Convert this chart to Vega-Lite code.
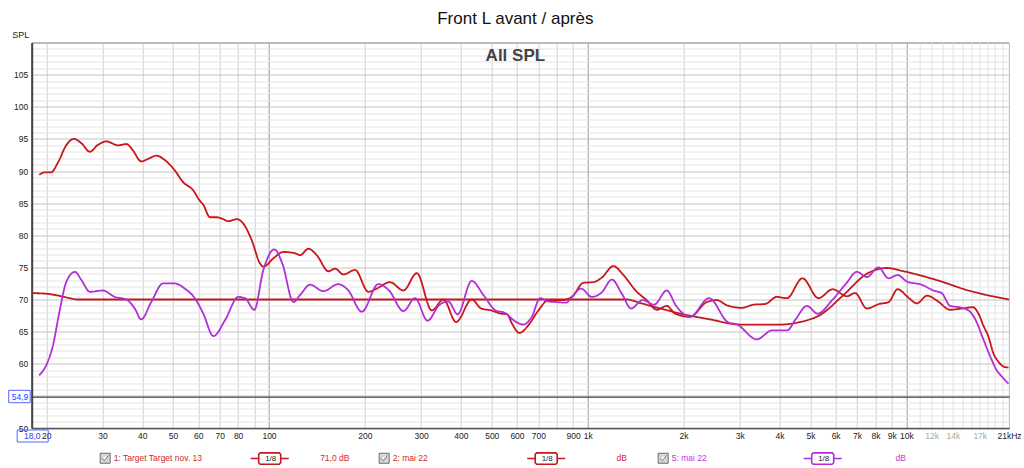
{
  "$schema": "https://vega.github.io/schema/vega-lite/v6.json",
  "width": 977.3,
  "height": 385.5,
  "autosize": {"type": "none"},
  "padding": {"left": 31.7, "top": 42.5, "right": 15, "bottom": 40},
  "background": "white",
  "config": {
    "font": "Liberation Sans",
    "view": {"stroke": "#777777", "strokeWidth": 1}
  },
  "title": {
    "text": "Front L avant / après",
    "subtitle": "All SPL",
    "anchor": "middle",
    "frame": "group",
    "fontSize": 17,
    "fontWeight": "normal",
    "color": "#111111",
    "subtitleFontSize": 17,
    "subtitleFontWeight": "bold",
    "subtitleColor": "#444444",
    "subtitlePadding": 20,
    "offset": -34,
    "dx": -5
  },
  "data": {
    "values": [
      {"s": "1: Target Target nov. 13", "f": 18, "v": 71.0},
      {"s": "1: Target Target nov. 13", "f": 20.0, "v": 70.9},
      {"s": "1: Target Target nov. 13", "f": 21.3, "v": 70.7},
      {"s": "1: Target Target nov. 13", "f": 22.3, "v": 70.5},
      {"s": "1: Target Target nov. 13", "f": 23.7, "v": 70.2},
      {"s": "1: Target Target nov. 13", "f": 25.1, "v": 70.0},
      {"s": "1: Target Target nov. 13", "f": 30, "v": 70.0},
      {"s": "1: Target Target nov. 13", "f": 100, "v": 70.0},
      {"s": "1: Target Target nov. 13", "f": 500, "v": 70.0},
      {"s": "1: Target Target nov. 13", "f": 1000, "v": 70.0},
      {"s": "1: Target Target nov. 13", "f": 1327, "v": 70.0},
      {"s": "1: Target Target nov. 13", "f": 1473, "v": 69.4},
      {"s": "1: Target Target nov. 13", "f": 1998, "v": 67.7},
      {"s": "1: Target Target nov. 13", "f": 2423, "v": 66.9},
      {"s": "1: Target Target nov. 13", "f": 3010, "v": 66.1},
      {"s": "1: Target Target nov. 13", "f": 4020, "v": 66.1},
      {"s": "1: Target Target nov. 13", "f": 4642, "v": 66.5},
      {"s": "1: Target Target nov. 13", "f": 5366, "v": 67.6},
      {"s": "1: Target Target nov. 13", "f": 6350, "v": 70.7},
      {"s": "1: Target Target nov. 13", "f": 7519, "v": 74.0},
      {"s": "1: Target Target nov. 13", "f": 8687, "v": 74.9},
      {"s": "1: Target Target nov. 13", "f": 9796, "v": 74.4},
      {"s": "1: Target Target nov. 13", "f": 12500, "v": 73.0},
      {"s": "1: Target Target nov. 13", "f": 15667, "v": 71.4},
      {"s": "1: Target Target nov. 13", "f": 21000, "v": 70.0},

      {"s": "2: mai 22", "f": 19.0, "v": 89.4},
      {"s": "2: mai 22", "f": 19.8, "v": 89.8},
      {"s": "2: mai 22", "f": 20.7, "v": 89.8},
      {"s": "2: mai 22", "f": 21.8, "v": 91.4},
      {"s": "2: mai 22", "f": 23.1, "v": 94.0},
      {"s": "2: mai 22", "f": 24.4, "v": 95.0},
      {"s": "2: mai 22", "f": 25.8, "v": 94.3},
      {"s": "2: mai 22", "f": 27.4, "v": 93.0},
      {"s": "2: mai 22", "f": 29.1, "v": 94.1},
      {"s": "2: mai 22", "f": 30.9, "v": 94.6},
      {"s": "2: mai 22", "f": 33.6, "v": 94.0},
      {"s": "2: mai 22", "f": 35.7, "v": 94.2},
      {"s": "2: mai 22", "f": 37.4, "v": 93.2},
      {"s": "2: mai 22", "f": 39.7, "v": 91.5},
      {"s": "2: mai 22", "f": 42.2, "v": 92.0},
      {"s": "2: mai 22", "f": 44.3, "v": 92.4},
      {"s": "2: mai 22", "f": 47.1, "v": 91.7},
      {"s": "2: mai 22", "f": 50.6, "v": 90.1},
      {"s": "2: mai 22", "f": 53.7, "v": 88.3},
      {"s": "2: mai 22", "f": 57.8, "v": 87.0},
      {"s": "2: mai 22", "f": 60.6, "v": 85.4},
      {"s": "2: mai 22", "f": 62.1, "v": 84.8},
      {"s": "2: mai 22", "f": 65.3, "v": 82.8},
      {"s": "2: mai 22", "f": 68.5, "v": 82.8},
      {"s": "2: mai 22", "f": 71.1, "v": 82.6},
      {"s": "2: mai 22", "f": 74.5, "v": 82.2},
      {"s": "2: mai 22", "f": 79.2, "v": 82.5},
      {"s": "2: mai 22", "f": 83.1, "v": 81.8},
      {"s": "2: mai 22", "f": 88.3, "v": 79.2},
      {"s": "2: mai 22", "f": 93.7, "v": 75.6},
      {"s": "2: mai 22", "f": 96.0, "v": 75.1},
      {"s": "2: mai 22", "f": 103.2, "v": 76.4},
      {"s": "2: mai 22", "f": 110.9, "v": 77.4},
      {"s": "2: mai 22", "f": 120.7, "v": 77.2},
      {"s": "2: mai 22", "f": 125.2, "v": 76.9},
      {"s": "2: mai 22", "f": 132.9, "v": 77.9},
      {"s": "2: mai 22", "f": 141.2, "v": 76.9},
      {"s": "2: mai 22", "f": 153.6, "v": 74.4},
      {"s": "2: mai 22", "f": 161.2, "v": 74.8},
      {"s": "2: mai 22", "f": 171.1, "v": 73.9},
      {"s": "2: mai 22", "f": 186.3, "v": 74.6},
      {"s": "2: mai 22", "f": 205.0, "v": 71.2},
      {"s": "2: mai 22", "f": 217.8, "v": 71.7},
      {"s": "2: mai 22", "f": 239.8, "v": 72.7},
      {"s": "2: mai 22", "f": 264.1, "v": 71.4},
      {"s": "2: mai 22", "f": 290.9, "v": 74.1},
      {"s": "2: mai 22", "f": 324.2, "v": 68.3},
      {"s": "2: mai 22", "f": 352.6, "v": 70.0},
      {"s": "2: mai 22", "f": 386.5, "v": 66.5},
      {"s": "2: mai 22", "f": 432.7, "v": 70.0},
      {"s": "2: mai 22", "f": 463, "v": 68.6},
      {"s": "2: mai 22", "f": 497.7, "v": 68.3},
      {"s": "2: mai 22", "f": 535, "v": 67.8},
      {"s": "2: mai 22", "f": 558.7, "v": 67.7},
      {"s": "2: mai 22", "f": 578, "v": 66.3},
      {"s": "2: mai 22", "f": 611, "v": 64.8},
      {"s": "2: mai 22", "f": 651.8, "v": 66.0},
      {"s": "2: mai 22", "f": 700.4, "v": 68.3},
      {"s": "2: mai 22", "f": 753, "v": 69.9},
      {"s": "2: mai 22", "f": 829.6, "v": 69.9},
      {"s": "2: mai 22", "f": 891.9, "v": 70.4},
      {"s": "2: mai 22", "f": 969.7, "v": 72.6},
      {"s": "2: mai 22", "f": 1042, "v": 72.7},
      {"s": "2: mai 22", "f": 1107, "v": 73.4},
      {"s": "2: mai 22", "f": 1204, "v": 75.2},
      {"s": "2: mai 22", "f": 1295, "v": 73.8},
      {"s": "2: mai 22", "f": 1426, "v": 71.2},
      {"s": "2: mai 22", "f": 1532, "v": 69.9},
      {"s": "2: mai 22", "f": 1648, "v": 68.4},
      {"s": "2: mai 22", "f": 1771, "v": 69.0},
      {"s": "2: mai 22", "f": 1881, "v": 67.8},
      {"s": "2: mai 22", "f": 2095, "v": 67.3},
      {"s": "2: mai 22", "f": 2365, "v": 69.6},
      {"s": "2: mai 22", "f": 2543, "v": 69.9},
      {"s": "2: mai 22", "f": 2734, "v": 69.1},
      {"s": "2: mai 22", "f": 3047, "v": 68.7},
      {"s": "2: mai 22", "f": 3314, "v": 69.2},
      {"s": "2: mai 22", "f": 3605, "v": 69.3},
      {"s": "2: mai 22", "f": 3922, "v": 70.4},
      {"s": "2: mai 22", "f": 4217, "v": 70.2},
      {"s": "2: mai 22", "f": 4723, "v": 73.3},
      {"s": "2: mai 22", "f": 5299, "v": 70.2},
      {"s": "2: mai 22", "f": 5874, "v": 71.6},
      {"s": "2: mai 22", "f": 6505, "v": 70.5},
      {"s": "2: mai 22", "f": 6907, "v": 71.0},
      {"s": "2: mai 22", "f": 7519, "v": 68.6},
      {"s": "2: mai 22", "f": 8217, "v": 69.3},
      {"s": "2: mai 22", "f": 8797, "v": 69.6},
      {"s": "2: mai 22", "f": 9394, "v": 71.6},
      {"s": "2: mai 22", "f": 10098, "v": 70.4},
      {"s": "2: mai 22", "f": 10793, "v": 69.4},
      {"s": "2: mai 22", "f": 11622, "v": 70.6},
      {"s": "2: mai 22", "f": 12497, "v": 69.8},
      {"s": "2: mai 22", "f": 13729, "v": 68.4},
      {"s": "2: mai 22", "f": 14972, "v": 68.6},
      {"s": "2: mai 22", "f": 16155, "v": 68.8},
      {"s": "2: mai 22", "f": 16846, "v": 67.8},
      {"s": "2: mai 22", "f": 17430, "v": 66.0},
      {"s": "2: mai 22", "f": 18104, "v": 64.2},
      {"s": "2: mai 22", "f": 18770, "v": 61.6},
      {"s": "2: mai 22", "f": 19465, "v": 60.3},
      {"s": "2: mai 22", "f": 20135, "v": 59.6},
      {"s": "2: mai 22", "f": 20920, "v": 59.4},

      {"s": "5: mai 22", "f": 19.0, "v": 58.2},
      {"s": "5: mai 22", "f": 20.0, "v": 59.8},
      {"s": "5: mai 22", "f": 21.0, "v": 62.9},
      {"s": "5: mai 22", "f": 22.0, "v": 68.1},
      {"s": "5: mai 22", "f": 23.1, "v": 72.7},
      {"s": "5: mai 22", "f": 24.6, "v": 74.3},
      {"s": "5: mai 22", "f": 25.8, "v": 73.0},
      {"s": "5: mai 22", "f": 27.4, "v": 71.2},
      {"s": "5: mai 22", "f": 30.1, "v": 71.4},
      {"s": "5: mai 22", "f": 32.8, "v": 70.4},
      {"s": "5: mai 22", "f": 35.7, "v": 70.0},
      {"s": "5: mai 22", "f": 37.9, "v": 68.6},
      {"s": "5: mai 22", "f": 39.7, "v": 66.9},
      {"s": "5: mai 22", "f": 42.7, "v": 69.6},
      {"s": "5: mai 22", "f": 46.5, "v": 72.5},
      {"s": "5: mai 22", "f": 50.6, "v": 72.5},
      {"s": "5: mai 22", "f": 54.4, "v": 71.7},
      {"s": "5: mai 22", "f": 58.5, "v": 70.2},
      {"s": "5: mai 22", "f": 62.2, "v": 67.8},
      {"s": "5: mai 22", "f": 66.9, "v": 64.3},
      {"s": "5: mai 22", "f": 72.8, "v": 66.8},
      {"s": "5: mai 22", "f": 80.1, "v": 70.4},
      {"s": "5: mai 22", "f": 84.1, "v": 70.2},
      {"s": "5: mai 22", "f": 89.9, "v": 68.4},
      {"s": "5: mai 22", "f": 96.0, "v": 74.6},
      {"s": "5: mai 22", "f": 103.9, "v": 77.8},
      {"s": "5: mai 22", "f": 110.1, "v": 75.6},
      {"s": "5: mai 22", "f": 119.3, "v": 69.6},
      {"s": "5: mai 22", "f": 125.2, "v": 70.7},
      {"s": "5: mai 22", "f": 134.5, "v": 72.3},
      {"s": "5: mai 22", "f": 148.1, "v": 71.3},
      {"s": "5: mai 22", "f": 165.0, "v": 72.4},
      {"s": "5: mai 22", "f": 177.4, "v": 71.4},
      {"s": "5: mai 22", "f": 195.5, "v": 68.1},
      {"s": "5: mai 22", "f": 220.4, "v": 72.4},
      {"s": "5: mai 22", "f": 238.1, "v": 71.4},
      {"s": "5: mai 22", "f": 264.1, "v": 68.2},
      {"s": "5: mai 22", "f": 287.3, "v": 70.2},
      {"s": "5: mai 22", "f": 314.5, "v": 66.7},
      {"s": "5: mai 22", "f": 341.6, "v": 69.1},
      {"s": "5: mai 22", "f": 365.5, "v": 69.7},
      {"s": "5: mai 22", "f": 390.6, "v": 67.7},
      {"s": "5: mai 22", "f": 432.7, "v": 72.9},
      {"s": "5: mai 22", "f": 470.9, "v": 70.7},
      {"s": "5: mai 22", "f": 514.1, "v": 68.3},
      {"s": "5: mai 22", "f": 550.6, "v": 67.9},
      {"s": "5: mai 22", "f": 592, "v": 66.6},
      {"s": "5: mai 22", "f": 628.4, "v": 66.1},
      {"s": "5: mai 22", "f": 667.8, "v": 67.3},
      {"s": "5: mai 22", "f": 709, "v": 70.2},
      {"s": "5: mai 22", "f": 753, "v": 69.7},
      {"s": "5: mai 22", "f": 800.1, "v": 69.6},
      {"s": "5: mai 22", "f": 855.5, "v": 69.5},
      {"s": "5: mai 22", "f": 891.9, "v": 70.4},
      {"s": "5: mai 22", "f": 953.7, "v": 71.7},
      {"s": "5: mai 22", "f": 1031, "v": 70.4},
      {"s": "5: mai 22", "f": 1107, "v": 71.1},
      {"s": "5: mai 22", "f": 1191, "v": 73.1},
      {"s": "5: mai 22", "f": 1280, "v": 70.9},
      {"s": "5: mai 22", "f": 1369, "v": 68.6},
      {"s": "5: mai 22", "f": 1487, "v": 69.9},
      {"s": "5: mai 22", "f": 1616, "v": 69.2},
      {"s": "5: mai 22", "f": 1771, "v": 71.4},
      {"s": "5: mai 22", "f": 1896, "v": 69.0},
      {"s": "5: mai 22", "f": 2095, "v": 67.3},
      {"s": "5: mai 22", "f": 2405, "v": 70.2},
      {"s": "5: mai 22", "f": 2750, "v": 66.5},
      {"s": "5: mai 22", "f": 2945, "v": 66.1},
      {"s": "5: mai 22", "f": 3395, "v": 63.8},
      {"s": "5: mai 22", "f": 3793, "v": 65.2},
      {"s": "5: mai 22", "f": 4228, "v": 65.2},
      {"s": "5: mai 22", "f": 4478, "v": 66.8},
      {"s": "5: mai 22", "f": 4873, "v": 69.0},
      {"s": "5: mai 22", "f": 5269, "v": 67.8},
      {"s": "5: mai 22", "f": 5852, "v": 69.9},
      {"s": "5: mai 22", "f": 6475, "v": 72.5},
      {"s": "5: mai 22", "f": 6995, "v": 74.3},
      {"s": "5: mai 22", "f": 7519, "v": 73.5},
      {"s": "5: mai 22", "f": 8178, "v": 75.0},
      {"s": "5: mai 22", "f": 8788, "v": 73.3},
      {"s": "5: mai 22", "f": 9394, "v": 73.8},
      {"s": "5: mai 22", "f": 10039, "v": 72.8},
      {"s": "5: mai 22", "f": 11173, "v": 72.3},
      {"s": "5: mai 22", "f": 12168, "v": 71.4},
      {"s": "5: mai 22", "f": 12910, "v": 71.0},
      {"s": "5: mai 22", "f": 13729, "v": 69.0},
      {"s": "5: mai 22", "f": 14972, "v": 68.7},
      {"s": "5: mai 22", "f": 15857, "v": 68.1},
      {"s": "5: mai 22", "f": 16683, "v": 66.3},
      {"s": "5: mai 22", "f": 17264, "v": 64.4},
      {"s": "5: mai 22", "f": 18461, "v": 60.8},
      {"s": "5: mai 22", "f": 19208, "v": 59.0},
      {"s": "5: mai 22", "f": 19948, "v": 58.0},
      {"s": "5: mai 22", "f": 20920, "v": 56.9}
    ]
  },
  "layer": [
    {
      "mark": {"type": "line", "interpolate": "monotone", "strokeWidth": 1.8},
      "encoding": {
        "x": {
          "field": "f",
          "type": "quantitative",
          "scale": {"type": "log", "domain": [18, 21000], "nice": false},
          "axis": {
            "title": null,
            "tickCount": 200,
            "values": [18, 20, 30, 40, 50, 60, 70, 80, 90, 100, 200, 300, 400, 500, 600, 700, 800, 900, 1000, 2000, 3000, 4000, 5000, 6000, 7000, 8000, 9000, 10000, 11000, 12000, 13000, 14000, 15000, 16000, 17000, 18000, 19000, 20000, 21000],
            "labelExpr": "datum.value == 18 ? '18,0' : datum.value == 21000 ? '21kHz' : (datum.value == 90 || datum.value == 800 || datum.value == 11000 || datum.value == 13000 || datum.value == 15000 || datum.value == 16000 || datum.value >= 18000) ? '' : datum.value >= 1000 ? (datum.value / 1000) + 'k' : '' + datum.value",
            "labelFontSize": 8.5,
            "labelPadding": 3,
            "labelFlush": false,
            "labelOverlap": false,
            "ticks": false,
            "grid": true,
            "domain": true,
            "domainColor": "#555555",
            "domainWidth": 1.5,
            "gridColor": {"condition": [{"test": "datum.value == 100 || datum.value == 1000 || datum.value == 10000", "value": "#9a9a9a"}, {"test": "datum.value > 10000", "value": "#e2e2e2"}], "value": "#d0d0d0"},
            "labelColor": {"condition": [{"test": "datum.value == 18", "value": "#2a40ff"}, {"test": "datum.value == 12000 || datum.value == 14000 || datum.value == 17000", "value": "#a8a8a8"}], "value": "#222222"}
          }
        },
        "y": {
          "field": "v",
          "type": "quantitative",
          "scale": {"domain": [50, 110], "nice": false, "zero": false},
          "axis": {
            "title": "SPL",
            "titleAngle": 0,
            "titleAlign": "left",
            "titleBaseline": "middle",
            "titleX": -20,
            "titleY": -8,
            "titleFontSize": 9,
            "titleFontWeight": "normal",
            "titleColor": "#222222",
            "tickCount": 200,
            "values": [50, 51, 52, 53, 54, 54.9, 55, 56, 57, 58, 59, 60, 61, 62, 63, 64, 65, 66, 67, 68, 69, 70, 71, 72, 73, 74, 75, 76, 77, 78, 79, 80, 81, 82, 83, 84, 85, 86, 87, 88, 89, 90, 91, 92, 93, 94, 95, 96, 97, 98, 99, 100, 101, 102, 103, 104, 105, 106, 107, 108, 109],
            "labelExpr": "datum.value == 54.9 ? '54,9' : (datum.value % 5 == 0 && datum.value != 55) ? '' + datum.value : ''",
            "labelFontSize": 8.5,
            "labelPadding": 4,
            "labelOverlap": false,
            "labelFlush": false,
            "ticks": false,
            "grid": true,
            "domain": true,
            "domainColor": "#444444",
            "domainWidth": 2,
            "gridColor": {"condition": [{"test": "datum.value == 54.9", "value": "#3a3a3a"}, {"test": "datum.value % 5 == 0", "value": "#c4c4c4"}], "value": "#e4e4e4"},
            "gridWidth": {"condition": {"test": "datum.value == 54.9", "value": 1.3}, "value": 1},
            "labelColor": {"condition": {"test": "datum.value == 54.9", "value": "#2a40ff"}, "value": "#222222"}
          }
        },
        "color": {
          "field": "s",
          "type": "nominal",
          "scale": {"domain": ["1: Target Target nov. 13", "2: mai 22", "5: mai 22"], "range": ["#bf1a1f", "#c8161c", "#b22fd8"]},
          "legend": {
            "orient": "none",
            "legendX": 218,
            "legendY": 396,
            "direction": "horizontal",
            "columns": 3,
            "title": null,
            "padding": 0,
            "gridAlign": "all",
            "columnPadding": 230.5,
            "symbolType": "M-1,0H-0.58M0.58,0H1M-0.5,-0.3H0.5L0.58,-0.22V0.22L0.5,0.3H-0.5L-0.58,0.22V-0.22Z",
            "symbolSize": 1444,
            "symbolFillColor": "#ffffff",
            "symbolStrokeWidth": 1.6,
            "labelExpr": "'1/8'",
            "labelFontSize": 8,
            "labelOffset": -19,
            "labelAlign": "center",
            "labelColor": "#222222",
            "encode": {
              "symbols": {"update": {"fill": {"value": "#ffffff"}, "strokeWidth": {"value": 1.6}, "opacity": {"value": 1}}}
            }
          }
        },
        "strokeDash": {
          "field": "s",
          "type": "nominal",
          "scale": {"range": [[1, 0], [1, 0], [1, 0]]},
          "legend": {
            "orient": "none",
            "legendX": 68,
            "legendY": 410,
            "direction": "horizontal",
            "columns": 3,
            "title": null,
            "padding": 0,
            "gridAlign": "all",
            "columnPadding": 26,
            "symbolType": "M-1,-1H1V1H-1Z M-0.6,0L-0.15,0.5L0.65,-0.6",
            "symbolSize": 100,
            "symbolStrokeColor": "#5e5e5e",
            "symbolFillColor": "#d6d6d6",
            "symbolStrokeWidth": 1,
            "labelFontSize": 8.5,
            "labelOffset": 3,
            "labelLimit": 400,
            "labelExpr": "datum.value == '1: Target Target nov. 13' ? datum.value + pad('', 50, '\u00a0') + '71,0 dB' : datum.value + pad('', 80, '\u00a0') + 'dB'",
            "encode": {
              "symbols": {"update": {"stroke": {"value": "#5e5e5e"}, "fill": {"value": "#d6d6d6"}, "strokeWidth": {"value": 1}, "strokeDash": {"value": []}, "opacity": {"value": 1}}},
              "labels": {"update": {"fill": {"signal": "datum.value == '5: mai 22' ? '#c03ad8' : '#d02a2a'"}}}
            }
          }
        }
      }
    },
    {
      "data": {"values": [{}]},
      "mark": {"type": "point", "shape": "M-1.45,0.2H1.65V1.4H-1.45Z", "size": 400, "filled": false, "stroke": "#5566ff", "strokeWidth": 1, "opacity": 1},
      "encoding": {"x": {"datum": 18}, "y": {"datum": 50}}
    },
    {
      "data": {"values": [{}]},
      "mark": {"type": "point", "shape": "M-2.3,-0.62H-0.15V0.62H-2.3Z", "size": 400, "filled": false, "stroke": "#5566ff", "strokeWidth": 1, "opacity": 1},
      "encoding": {"x": {"datum": 18}, "y": {"datum": 54.9}}
    }
  ]
}
